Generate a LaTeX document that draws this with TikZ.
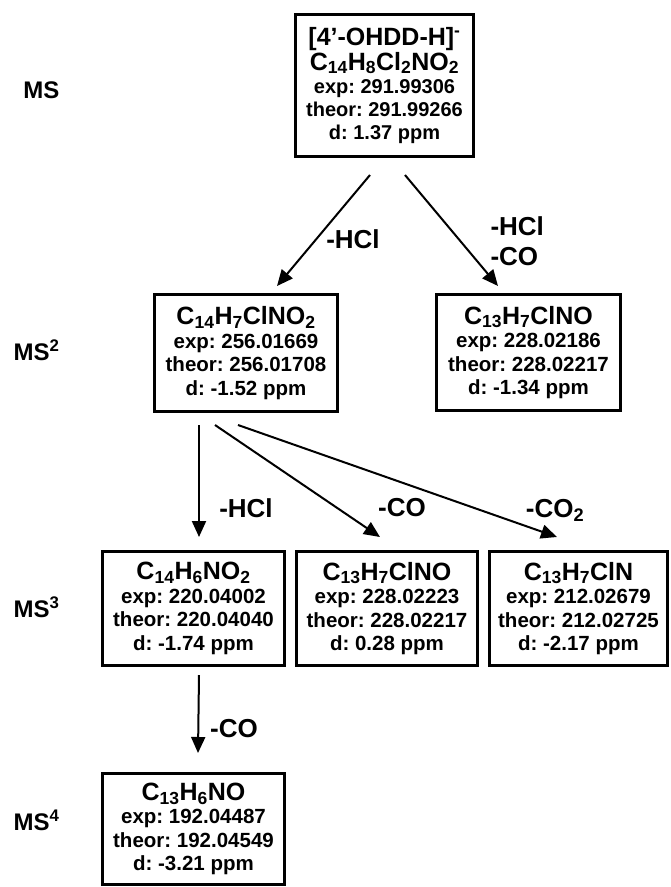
\documentclass[tikz,border=0pt]{standalone}
\usepackage{fontspec}
\setmainfont{Liberation Sans}
\usetikzlibrary{positioning,calc,arrows.meta}
\frenchspacing
\newcommand{\fml}[1]{{\fontsize{25}{31}\selectfont #1}}
\newcommand{\subn}[1]{\textsubscript{#1}}

\begin{document}
\begin{tikzpicture}[x=1pt, y=-1pt,
    box/.style={draw, line width=3pt, inner sep=0pt, align=center,
        font=\bfseries\fontsize{20.5}{23.5}\selectfont},
    lvl/.style={anchor=east, font=\bfseries\fontsize{24}{28}\selectfont},
    loss/.style={font=\bfseries\fontsize{26}{30}\selectfont},
    frag/.style={line width=2pt, -{Triangle[length=16pt,width=14pt]}}]
        \useasboundingbox (0,0) rectangle (671,887);
        % precursor and MS2 fragments
        \node [box, minimum width=178pt, minimum height=142pt,
            font=\bfseries\fontsize{20}{23}\selectfont] (parent) at (384.5,85.5)
            {\fml{[4’-OHDD-H]\textsuperscript{-}}\\\fml{C\subn{14}H\subn{8}Cl\subn{2}NO\subn{2}}\\exp: 291.99306\\theor: 291.99266\\d: 1.37 ppm};
        \node [box, minimum width=183pt, minimum height=117pt] (hcl) at (246,353)
            {\fml{C\subn{14}H\subn{7}ClNO\subn{2}}\\exp: 256.01669\\theor: 256.01708\\d: -1.52 ppm};
        \node [box, minimum width=184pt, minimum height=116pt] (hclco) at (528.5,352.5)
            {\fml{C\subn{13}H\subn{7}ClNO}\\exp: 228.02186\\theor: 228.02217\\d: -1.34 ppm};
        % MS3 and MS4 fragments
        \node [box, minimum width=182pt, minimum height=114pt] (dhcl) at (193.5,608.5)
            {\fml{C\subn{14}H\subn{6}NO\subn{2}}\\exp: 220.04002\\theor: 220.04040\\d: -1.74 ppm};
        \node [box, minimum width=181pt, minimum height=114pt, right=9pt of dhcl] (dco)
            {\fml{C\subn{13}H\subn{7}ClNO}\\exp: 228.02223\\theor: 228.02217\\d: 0.28 ppm};
        \node [box, minimum width=178pt, minimum height=114pt, right=9pt of dco] (dco2)
            {\fml{C\subn{13}H\subn{7}ClN}\\exp: 212.02679\\theor: 212.02725\\d: -2.17 ppm};
        \node [box, minimum width=182pt, minimum height=111pt, below=105pt of dhcl] (dhclco)
            {\fml{C\subn{13}H\subn{6}NO}\\exp: 192.04487\\theor: 192.04549\\d: -3.21 ppm};
        % stages
        \node [lvl] (ms1) at (63,90) {MS};
        \node [lvl] (ms2) at (63,350) {MS\textsuperscript{2}};
        \node [lvl] (ms3) at (63,607) {MS\textsuperscript{3}};
        \node [lvl] (ms4) at (63,820) {MS\textsuperscript{4}};
        % losses
        \draw [frag] ($(parent.south)+(-14.5,17)$) to ($(hcl.north)+(31,-7)$);
        \draw [frag] ($(parent.south)+(20.5,17)$) to ($(hclco.north)+(-30.5,-7)$);
        \draw [frag] ($(hcl.south)+(-47,12)$) to ($(dhcl.north)+(5.5,-13)$);
        \draw [frag] ($(hcl.south)+(-31,12)$) to ($(dco.north)+(-7,-13)$);
        \draw [frag] ($(hcl.south)+(-8,12)$) to ($(dco2.north)+(-21.5,-13)$);
        \draw [frag] ($(dhcl.south)+(5.5,8)$) to ($(dhclco.north)+(4.5,-19)$);
        \node [loss] (l1) at (353,239) {-HCl};
        \node [loss, align=left, anchor=west] (l2) at (487,241) {-HCl\\-CO};
        \node [loss] (l3) at (246,508) {-HCl};
        \node [loss] (l4) at (402,508) {-CO};
        \node [loss] (l5) at (555,510) {-CO\textsubscript{2}};
        \node [loss] (l6) at (234,729) {-CO};
    \end{tikzpicture}
\end{document}
